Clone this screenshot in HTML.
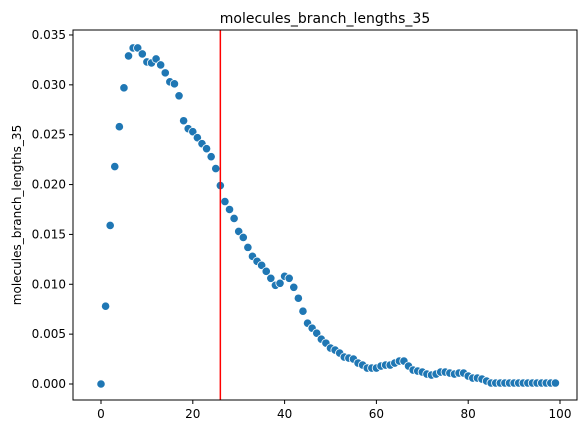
<!DOCTYPE html>
<html><head><meta charset="utf-8"><style>
body{margin:0;background:#fff;font-family:"Liberation Sans","DejaVu Sans",sans-serif}
text{font-family:"DejaVu Sans","Liberation Sans",sans-serif}
</style></head><body>
<svg id="chart" width="584" height="435" xmlns="http://www.w3.org/2000/svg"></svg>
<script>
const yValues=[0.0000,0.0078,0.0159,0.0218,0.0258,0.0297,0.0329,0.0337,0.0337,0.0331,0.0323,0.0322,0.0326,0.0320,0.0312,0.0303,0.0301,0.0289,0.0264,0.0256,0.0253,0.0247,0.0241,0.0236,0.0228,0.0216,0.0199,0.0183,0.0175,0.0166,0.0153,0.0147,0.0137,0.0128,0.0123,0.0119,0.0113,0.0106,0.0099,0.0101,0.0108,0.0106,0.0097,0.0086,0.0073,0.0061,0.0056,0.0051,0.0045,0.0041,0.0036,0.0034,0.0031,0.0027,0.0026,0.0025,0.0021,0.0019,0.0016,0.0016,0.0016,0.0018,0.0019,0.0019,0.0021,0.0023,0.0023,0.0018,0.0014,0.0013,0.0012,0.0010,0.0009,0.0010,0.0012,0.0012,0.0011,0.0010,0.0011,0.0011,0.0008,0.0006,0.0006,0.0005,0.0003,0.0001,0.0001,0.0001,0.0001,0.0001,0.0001,0.0001,0.0001,0.0001,0.0001,0.0001,0.0001,0.0001,0.0001,0.0001];
const xTicks=[0,20,40,60,80,100];
const yTicks=[0,0.005,0.010,0.015,0.020,0.025,0.030,0.035];
const vlineX=[26];
const NS="http://www.w3.org/2000/svg";
const svg=document.getElementById('chart');
const L=73,R=577,T=30,B=400;
const sx=v=>101+v*4.59;
const sy=v=>384-v/0.005*49.86;
function mk(tag,attrs,txt){const e=document.createElementNS(NS,tag);for(const k in attrs)e.setAttribute(k,attrs[k]);if(txt!==undefined)e.textContent=txt;svg.appendChild(e);return e;}
yValues.forEach((v,i)=>{
 const c=mk('circle',{cx:sx(i),cy:sy(v),r:4.2,fill:'#1f77b4',stroke:'#fff','stroke-width':0.8});
 
 
});
vlineX.forEach(v=>{
 const l=mk('line',{x1:sx(v),x2:sx(v),y1:T,y2:B,stroke:'#ff0000','stroke-width':1.5});
 
 
});
const f=mk('rect',{x:L,y:T,width:R-L,height:B-T,fill:'none',stroke:'#000','stroke-width':1});


xTicks.forEach(v=>{
 const x=sx(v);
 mk('line',{x1:x,x2:x,y1:B,y2:B+4,stroke:'#000'});
 const t=mk('text',{x:x,y:B+18,'text-anchor':'middle','font-size':12},String(v));
 
 
});
yTicks.forEach(v=>{
 const y=sy(v);
 mk('line',{x1:L-4,x2:L,y1:y,y2:y,stroke:'#000'});
 const t=mk('text',{x:L-7,y:y+4,'text-anchor':'end','font-size':12},v.toFixed(3));
 
 
});
const ti=mk('text',{x:(L+R)/2,y:23,'text-anchor':'middle','font-size':14},'molecules_branch_lengths_35');


const ya=mk('text',{x:21,y:(T+B)/2,'text-anchor':'middle','font-size':12,transform:`rotate(-90 21 ${(T+B)/2})`},'molecules_branch_lengths_35');


</script>
</body></html>
